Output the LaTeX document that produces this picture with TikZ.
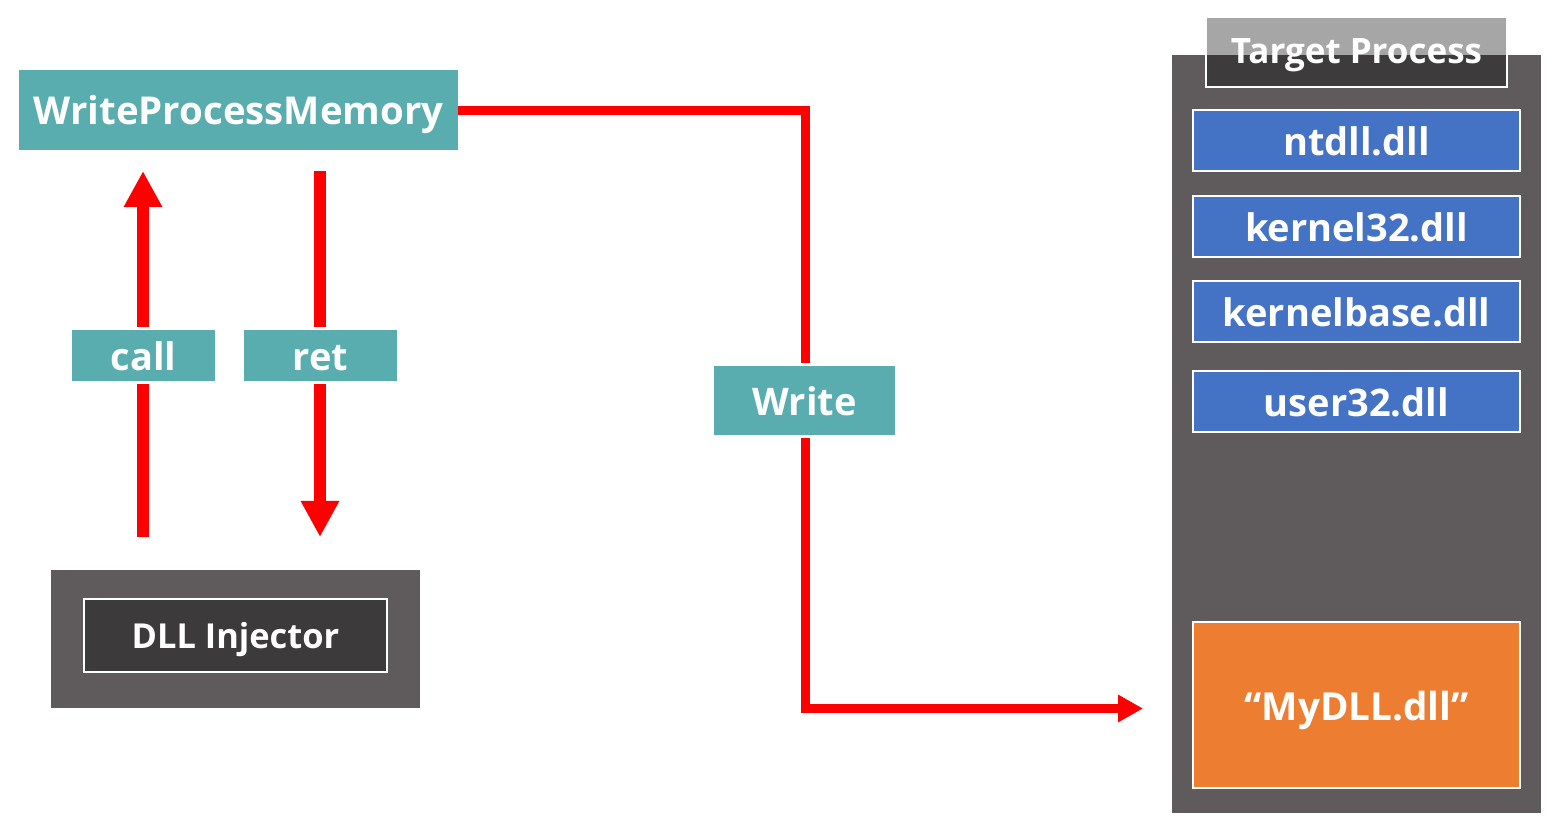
\documentclass[tikz,border=0pt]{standalone}
\usepackage{fontspec}
\setmainfont{Open Sans}[BoldFont={Open Sans Bold}]
\usetikzlibrary{arrows.meta}
\definecolor{teal1}{RGB}{89,173,175}
\definecolor{blue1}{RGB}{68,114,196}
\definecolor{orange1}{RGB}{237,125,49}
\definecolor{gray1}{RGB}{95,91,92}
\definecolor{dark1}{RGB}{61,58,59}
\definecolor{red1}{RGB}{255,0,0}
\begin{document}
\begin{tikzpicture}[x=0.5pt,y=-0.5pt,
  base/.style={rectangle, inner sep=0pt, text=white, text depth=0pt},
  big/.style={font=\bfseries\fontsize{19}{22}\selectfont, text height=14.8pt},
  tealbox/.style={base, big, fill=teal1},
  lbl/.style={tealbox, draw=white, line width=1.6pt},
  dllbox/.style={base, big, fill=blue1, draw=white, line width=1pt, minimum width=163.5pt, minimum height=30.5pt},
  bigarrow/.style={draw=red1, line width=6pt, -{Triangle[width=18pt,length=18pt]}},
  wline/.style={draw=red1, line width=4.5pt},
  warrow/.style={wline, -{Triangle[width=13pt,length=12.5pt]}}
]
\useasboundingbox (0,0) rectangle (1560,834);
% Target process
\node[base, fill=gray1, minimum width=184.5pt, minimum height=379pt] (tp) at (1356.5,434) {};
\node[base, fill=black, fill opacity=0.35, text opacity=1, draw=white, line width=1pt, minimum width=150.5pt, minimum height=35pt, font=\bfseries\fontsize{17.5}{20}\selectfont, text height=12pt] (hdr) at (1356.5,52) {Target Process};
\node[dllbox] (ntdll) at (1356.5,140.5) {ntdll.dll};
\node[dllbox] (k32) at (1356.5,226.5) {kernel32.dll};
\node[dllbox] (kbase) at (1356.5,311.5) {kernelbase.dll};
\node[dllbox] (u32) at (1356.5,401.5) {user32.dll};
\node[base, big, fill=orange1, draw=white, line width=1pt, minimum width=163.5pt, minimum height=83pt, font=\bfseries\fontsize{19.3}{22}\selectfont, text height=15pt] (mydll) at (1356.5,705) {“MyDLL.dll”};
% WriteProcessMemory
\node[tealbox, minimum width=219.5pt, minimum height=40pt, font=\bfseries\fontsize{19.2}{22}\selectfont] (wpm) at (238.5,110) {WriteProcessMemory};
% DLL injector
\node[base, fill=gray1, minimum width=184.5pt, minimum height=69pt] (injo) at (235.5,639) {};
\node[base, fill=dark1, draw=white, line width=1pt, minimum width=151.5pt, minimum height=36.5pt, font=\bfseries\fontsize{17.2}{20}\selectfont, text height=12.5pt] (inj) at (235.5,635.5) {DLL Injector};
% connectors
\coordinate (cs) at (143,537);
\coordinate (ce) at (143,171);
\coordinate (rs) at (320,171);
\coordinate (re) at (320,537);
\coordinate (wc1) at (805.5,110.5);
\coordinate (wc2) at (805.5,708.5);
\coordinate (we) at (1143,708.5);
\draw[bigarrow] (cs) -- (ce);
\draw[bigarrow] (rs) -- (re);
\draw[warrow] (wpm.east |- wc1) -- (wc1) -- (wc2) -- (we);
% labels
\node[lbl, minimum width=73pt, minimum height=27pt] (call) at (143.5,355.5) {call};
\node[lbl, minimum width=78pt, minimum height=27pt] (ret) at (320.5,355.5) {ret};
\node[lbl, minimum width=92pt, minimum height=36pt] (write) at (804.5,400.5) {Write};
\end{tikzpicture}
\end{document}
